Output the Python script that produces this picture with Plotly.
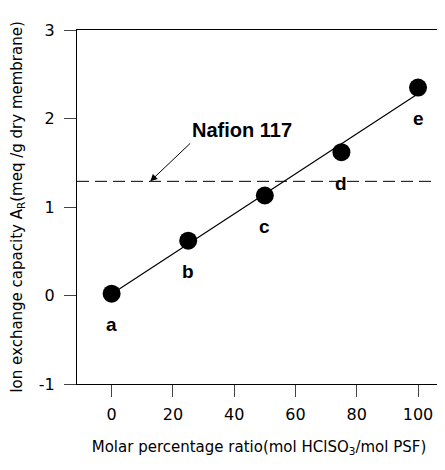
import numpy as np
import plotly.graph_objects as go

ratio = [0, 25, 50, 75, 100]
capacity = [0.02, 0.62, 1.13, 1.62, 2.35]
point_labels = ["a", "b", "c", "d", "e"]
nafion_value = 1.29
nafion_label = "Nafion 117"
x_ticks = [0, 20, 40, 60, 80, 100]
y_ticks = [-1, 0, 1, 2, 3]
y_tick_text = ["-1", "0", "1", "2", "3"]

slope, intercept = np.polyfit(ratio, capacity, 1)
fit_x = [ratio[0], ratio[-1]]
fit_y = [slope * v + intercept for v in fit_x]

label_font = "Liberation Sans, Arial, sans-serif"
axis_font = "DejaVu Sans, sans-serif"

fig = go.Figure()
fig.add_trace(go.Scatter(x=fit_x, y=fit_y, mode="lines",
                         line=dict(color="black", width=1.2), showlegend=False))
fig.add_trace(go.Scatter(x=ratio, y=capacity, mode="markers",
                         marker=dict(color="black", size=18), showlegend=False))

fig.add_hline(y=nafion_value, line=dict(color="black", width=1, dash="12px,6px"))

for xv, yv, lab in zip(ratio, capacity, point_labels):
    fig.add_annotation(x=xv, y=yv, text="<b>%s</b>" % lab, showarrow=False,
                       yshift=-31, font=dict(family=label_font, size=19, color="black"))

fig.add_annotation(x=12.6, y=nafion_value, text="<b>%s</b>" % nafion_label,
                   showarrow=True, arrowhead=2, arrowsize=1.4, arrowwidth=1,
                   arrowcolor="black", ax=40, ay=-38,
                   xanchor="left", yanchor="bottom",
                   font=dict(family=label_font, size=20, color="black"))

fig.update_layout(
    width=437, height=462,
    margin=dict(l=69, r=4, t=22, b=86, autoexpand=False),
    paper_bgcolor="white", plot_bgcolor="white",
    font=dict(family=axis_font, color="black"),
)
fig.update_xaxes(range=[-11.3, 107.5], tickvals=x_ticks, ticks="outside", ticklen=12,
                 tickwidth=1.3, showline=True, linecolor="black", linewidth=1.3,
                 mirror=True, showgrid=False, zeroline=False, automargin=False,
                 tickfont=dict(family=axis_font, size=16), ticklabelstandoff=4,
                 title=dict(text="Molar percentage ratio(mol HClSO<sub>3</sub>/mol PSF)",
                            font=dict(family=axis_font, size=15), standoff=18))
fig.update_yaxes(range=[-1, 3], tickvals=y_ticks, ticktext=y_tick_text,
                 ticks="outside", ticklen=12,
                 tickwidth=1.3, showline=True, linecolor="black", linewidth=1.3,
                 mirror=True, showgrid=False, zeroline=False, automargin=False,
                 tickfont=dict(family=axis_font, size=16), ticklabelstandoff=6,
                 title=dict(text="Ion exchange capacity A<sub>R</sub>(meq /g dry membrane)",
                            font=dict(family=axis_font, size=15), standoff=12))

fig.write_html("out.html")
